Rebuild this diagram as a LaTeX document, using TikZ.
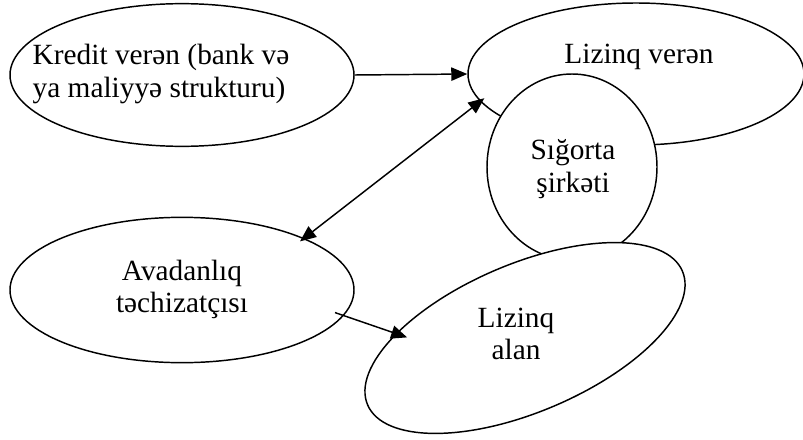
\documentclass[tikz,border=0pt]{standalone}
\usepackage{fontspec}
\setmainfont{Liberation Serif}
\usetikzlibrary{shapes.geometric,arrows.meta}

\tikzset{
	ent node/.style = {
		ellipse,
		draw = black,
		fill = white,
		line width = 1.1pt,
		inner sep = 0pt
	},
	txt node/.style = {
		align = center,
		font = \fontsize{22}{24.3}\selectfont
	},
	link/.style = {
		line width = 1.1pt,
		-{Triangle[length=12pt,width=10pt]}
	},
	both link/.style = {
		link,
		{Triangle[length=12pt,width=10pt]}-{Triangle[length=12pt,width=10pt]}
	}
}

\begin{document}
\begin{tikzpicture}[x=0.75pt,y=-0.75pt]
	\useasboundingbox (0,0) rectangle (803,439);
	% shapes, back to front
	\node at (182,75)  [ent node, minimum width=258pt, minimum height=107pt] (kredit) {};
	\node at (636,74)  [ent node, minimum width=252pt, minimum height=106.5pt] (lveren) {};
	\node at (572,167) [ent node, minimum width=127.5pt, minimum height=139.5pt] (sigorta) {};
	\node at (182,290) [ent node, minimum width=258pt, minimum height=109pt] (avad) {};
	\node at (525,338) [ent node, minimum width=256.5pt, minimum height=111pt, rotate=23] (alan) {};
	% texts
	\node at (161,74)    [txt node, align=left] (kredit txt) {Kredit verən (bank və\\ya maliyyə strukturu)};
	\node at (639,56.5)  [txt node] (lveren txt) {Lizinq verən};
	\node at (573,169)   [txt node] (sigorta txt) {Sığorta\\şirkəti};
	\node at (182,289.5) [txt node] (avad txt) {Avadanlıq\\təchizatçısı};
	\node at (516,334)   [txt node] (alan txt) {Lizinq\\alan};
	% arrows
	\draw[link] (kredit.east) -- (lveren.west);
	\draw[both link, shorten <=-4pt, shorten >=-4pt] (avad.23) -- (lveren.190);
	\draw[link, shorten <=-7pt, shorten >=-9pt] (avad.-9) -- (alan.155);
\end{tikzpicture}
\end{document}
